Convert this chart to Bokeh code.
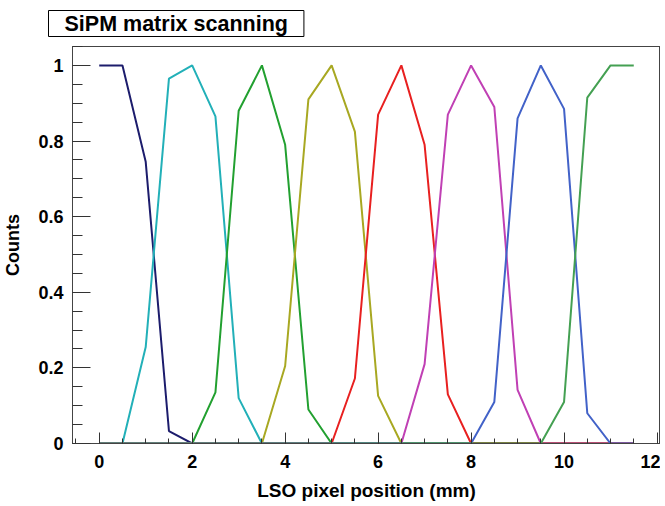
from bokeh.plotting import figure
from bokeh.models import SingleIntervalTicker, FixedTicker, CustomJSTickFormatter, LinearAxis
from bokeh.embed import file_html
from bokeh.resources import INLINE

title_text = "SiPM matrix scanning"
x_label = "LSO pixel position (mm)"
y_label = "Counts"

positions = [0, 0.5, 1, 1.5, 2, 2.5, 3, 3.5, 4, 4.5, 5, 5.5,
             6, 6.5, 7, 7.5, 8, 8.5, 9, 9.5, 10, 10.5, 11, 11.5]

pixel1 = [1, 1, 0.745, 0.033, 0, 0, 0, 0, 0, 0, 0, 0,
          0, 0, 0, 0, 0, 0, 0, 0, 0, 0, 0, 0]
pixel2 = [0, 0, 0.255, 0.965, 1.0, 0.865, 0.12, 0, 0, 0, 0, 0,
          0, 0, 0, 0, 0, 0, 0, 0, 0, 0, 0, 0]
pixel3 = [0, 0, 0, 0, 0, 0.135, 0.88, 1.0, 0.79, 0.09, 0, 0,
          0, 0, 0, 0, 0, 0, 0, 0, 0, 0, 0, 0]
pixel4 = [0, 0, 0, 0, 0, 0, 0, 0, 0.205, 0.91, 1.0, 0.825,
          0.126, 0, 0, 0, 0, 0, 0, 0, 0, 0, 0, 0]
pixel5 = [0, 0, 0, 0, 0, 0, 0, 0, 0, 0, 0, 0.172,
          0.87, 1.0, 0.79, 0.13, 0, 0, 0, 0, 0, 0, 0, 0]
pixel6 = [0, 0, 0, 0, 0, 0, 0, 0, 0, 0, 0, 0,
          0, 0, 0.21, 0.87, 1.0, 0.89, 0.142, 0, 0, 0, 0, 0]
pixel7 = [0, 0, 0, 0, 0, 0, 0, 0, 0, 0, 0, 0,
          0, 0, 0, 0, 0, 0.11, 0.86, 1.0, 0.885, 0.08, 0, 0]
pixel8 = [0, 0, 0, 0, 0, 0, 0, 0, 0, 0, 0, 0,
          0, 0, 0, 0, 0, 0, 0, 0, 0.11, 0.915, 1.0, 1.0]

series = [pixel1, pixel2, pixel3, pixel4, pixel5, pixel6, pixel7, pixel8]
colors = ["#1c1c6c", "#22b0b8", "#22a030", "#a8a822",
          "#e82020", "#c040b4", "#4262c8", "#44a052"]

FONT = "Liberation Sans"
FRAME = "#444444"

p = figure(width=660, height=504, x_range=(-0.575, 12.075), y_range=(0, 1.05),
           output_backend="svg", toolbar_location=None,
           min_border_left=72, min_border_right=0, min_border_top=45,
           min_border_bottom=61)

p.grid.visible = False
p.outline_line_color = FRAME
p.outline_line_width = 1
p.background_fill_color = "white"
p.border_fill_color = "white"

for ys, c in zip(series, colors):
    p.line(positions, ys, line_color=c, line_width=2)

xa = p.xaxis[0]
xa.ticker = SingleIntervalTicker(interval=2, num_minor_ticks=4)
xa.major_tick_in = 11
xa.major_tick_out = 0
xa.minor_tick_in = 5
xa.minor_tick_out = 0
xa.major_tick_line_color = "#333333"
xa.minor_tick_line_color = "#333333"
xa.axis_line_color = FRAME
xa.major_label_text_font = FONT
xa.major_label_text_font_style = "bold"
xa.major_label_text_font_size = "18px"
xa.major_label_text_color = "black"
xa.major_label_standoff = 11
xa.axis_label = x_label
xa.axis_label_text_font = FONT
xa.axis_label_text_font_style = "bold"
xa.axis_label_text_font_size = "19px"
xa.axis_label_text_color = "black"
xa.axis_label_standoff = 9

ya = p.yaxis[0]
ya.ticker = SingleIntervalTicker(interval=0.2, num_minor_ticks=4)
ya.formatter = CustomJSTickFormatter(code="var s = tick.toFixed(1); return s.endsWith('.0') ? s.slice(0, -2) : s;")
ya.major_tick_in = 18
ya.major_tick_out = 0
ya.minor_tick_in = 10
ya.minor_tick_out = 0
ya.major_tick_line_color = "#333333"
ya.minor_tick_line_color = "#333333"
ya.axis_line_color = FRAME
ya.major_label_text_font = FONT
ya.major_label_text_font_style = "bold"
ya.major_label_text_font_size = "18px"
ya.major_label_text_color = "black"
ya.major_label_standoff = 9
ya.axis_label = y_label
ya.axis_label_text_font = FONT
ya.axis_label_text_font_style = "bold"
ya.axis_label_text_font_size = "18px"
ya.axis_label_text_color = "black"
ya.axis_label_standoff = 12

for loc in ("above", "right"):
    ax = LinearAxis(ticker=FixedTicker(ticks=[]), axis_line_color=FRAME,
                    major_tick_in=0, major_tick_out=0, minor_tick_in=0, minor_tick_out=0,
                    major_label_standoff=0, major_label_text_font_size="0px")
    p.add_layout(ax, loc)

p.title.text = title_text
p.title.text_font = FONT
p.title.text_font_style = "bold"
p.title.text_font_size = "21.5px"
p.title.text_color = "black"
p.title.align = "left"
p.title.vertical_align = "middle"
p.title.offset = -24
p.title.standoff = 18
p.title.border_line_color = "black"
p.title.border_line_width = 1
p.title.background_fill_color = "white"
p.title.padding = [16, 1]

open("out.html", "w").write(file_html(p, INLINE))
